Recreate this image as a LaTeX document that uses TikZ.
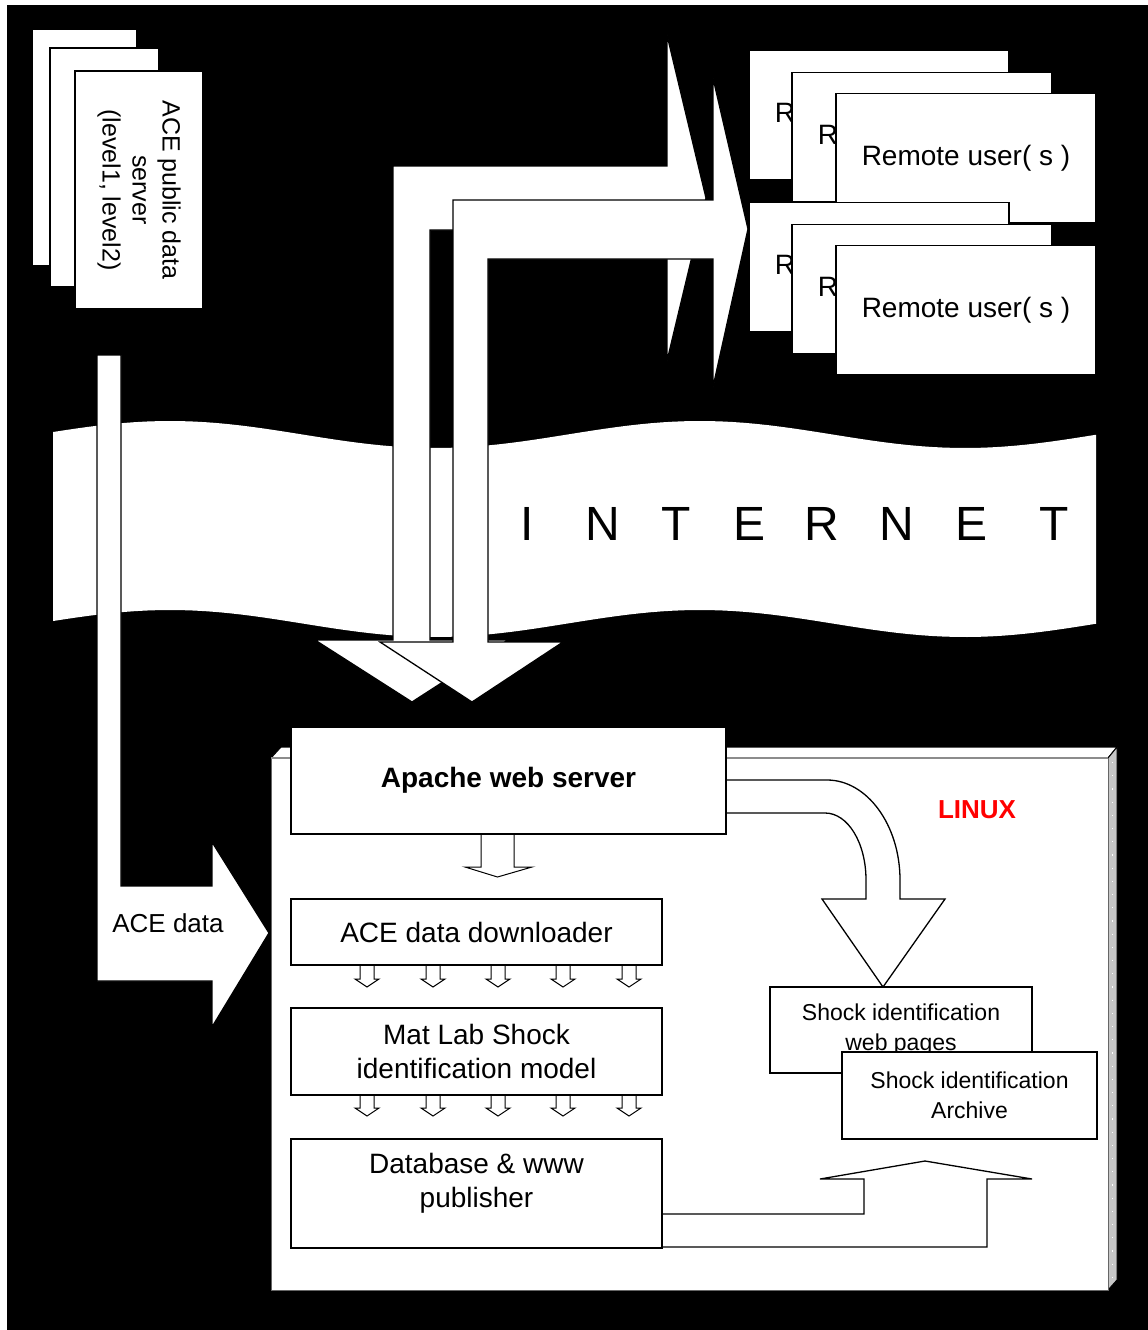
\documentclass[tikz,border=0pt]{standalone}
\usepackage{fontspec}
\setmainfont{Liberation Sans}
\begin{document}
\begin{tikzpicture}[x=1pt,y=-1pt,
every node/.style={inner sep=0pt,outer sep=0pt},
box/.style={draw,fill=white,line width=1.3pt,align=center,font=\fontsize{28}{34}\selectfont},
card/.style={box,minimum width=260pt,minimum height=129pt},
shockbox/.style={box,font=\fontsize{23}{30}\selectfont},
blockarrow/.style={draw,fill=white,line width=1.3pt,line join=miter},
smallarrow/.style={draw,fill=white,line width=1pt}]

\useasboundingbox (0,0) rectangle (1148,1330);
\fill[white] (0,0) rectangle (1148,1330);
\fill[black] (7,5) rectangle (1148,1330);

% data server stack
\node[box,minimum width=105pt,minimum height=237pt] (srv3) at (84.5,147.5) {};
\node[box,minimum width=109pt,minimum height=239pt] (srv2) at (104.5,167.5) {};
\node[box,rotate=-90,minimum width=238pt,minimum height=128pt,font=\fontsize{25}{30}\selectfont] (srv1) at (139,190) {ACE public data\\server\\(level1, level2)};

% internet banner
\fill[white] plot[domain=53:1096,samples=90] (\x,{434.5+13.5*cos(0.6792*(\x-435))})
  -- plot[domain=1096:53,samples=90] (\x,{623.5+13.5*cos(0.6792*(\x-435))}) -- cycle;
\foreach \x/\l in {527/I,603/N,676/T,749/E,822/R,897/N,971/E,1054/T}
  \node[anchor=base,font=\fontsize{48}{48}\selectfont] (net\x) at (\x,540) {\l};

% ACE data feed
\draw[blockarrow] (97,355) -- (121,355) -- (121,886) -- (212,886) -- (212,842) -- (269,933)
  -- (212,1027) -- (212,981) -- (97,981) -- cycle;
\node[font=\fontsize{26}{30}\selectfont] (acedata) at (168,923) {ACE data};

% web traffic in and out
\draw[blockarrow] (393,640) -- (393,166) -- (667,166) -- (667,35) -- (706,198) -- (667,361)
  -- (667,230) -- (430,230) -- (430,640) -- (508,640) -- (412,702) -- (315,640) -- cycle;
\draw[blockarrow] (453,642) -- (453,200) -- (713,200) -- (713,78) -- (748,229) -- (713,387)
  -- (713,259) -- (488,259) -- (488,642) -- (563,642) -- (472,702) -- (380,642) -- cycle;

% remote users
\node[card] (userA3) at (879,115) {Remote user( s )};
\node[card] (userA2) at (922,137) {Remote user( s )};
\node[card] (userA1) at (966,158) {Remote user( s )};
\node[card] (userB3) at (879,267) {Remote user( s )};
\node[card] (userB2) at (922,289) {Remote user( s )};
\node[card] (userB1) at (966,310) {Remote user( s )};

% linux machine
\draw[fill=white,line width=1pt] (271,758) -- (281,747) -- (1117,747) -- (1108,758) -- cycle;
\draw[fill=black!22,line width=1pt] (1108,758) -- (1117,747) -- (1117,1280) -- (1108,1290) -- cycle;
\draw[white,line width=1.2pt,dash pattern=on 1.2pt off 12pt] (1112.5,762) -- (1112.5,1280);
\node[draw=black!60,fill=white,line width=1pt,minimum width=837pt,minimum height=532pt] (linux) at (689.5,1024) {};
\draw[black!45,line width=1.5pt] (linux.north west) -- (linux.north east);
\node[font=\bfseries\fontsize{26}{30}\selectfont,text=red] (os) at (977,810) {LINUX};

% arrows inside
\draw[blockarrow] (726,780) -- (827,780) .. controls (867,780) and (900,825) .. (900,880) -- (900,899)
  -- (945,899) -- (883,987) -- (822,899) -- (866,899) -- (866,880)
  .. controls (866,843) and (848,813) .. (825,813) -- (726,813);
\draw[smallarrow] (481,833) -- (481,867) -- (465,867) -- (497.5,877) -- (532,867) -- (514,867) -- (514,833);
\foreach \x in {367,433,498,563,629} {
  \draw[smallarrow] (\x,965) ++(-7,0) -- ++(0,14) -- ++(-5,0) -- ++(12,8) -- ++(12,-8) -- ++(-5,0) -- ++(0,-14);
  \draw[smallarrow] (\x,1094) ++(-7,0) -- ++(0,14) -- ++(-5,0) -- ++(12,8) -- ++(12,-8) -- ++(-5,0) -- ++(0,-14);
}
\draw[blockarrow] (662,1214) -- (864,1214) -- (864,1179) -- (820,1179) -- (925,1161) -- (1032,1179)
  -- (987,1179) -- (987,1247) -- (662,1247);

% boxes
\node[box,minimum width=435pt,minimum height=107pt,font=\bfseries\fontsize{28}{34}\selectfont] (apache) at (508.5,780.5) {Apache web server};
\node[box,minimum width=371pt,minimum height=66pt] (down) at (476.5,932) {ACE data downloader};
\node[box,minimum width=371pt,minimum height=87pt] (matlab) at (476.5,1051.5) {Mat Lab Shock\\identification model};
\node[box,minimum width=371pt,minimum height=109pt] (db) at (476.5,1193.5) {};
\node[align=center,font=\fontsize{28}{34}\selectfont] (dbtext) at (476.5,1183) {Database \& www\\publisher};
\node[shockbox,minimum width=262pt,minimum height=86pt] (web) at (901,1030) {Shock identification\\web pages};
\node[shockbox,minimum width=255pt,minimum height=87pt] (archive) at (969.5,1095.5) {Shock identification\\Archive};

\end{tikzpicture}
\end{document}
